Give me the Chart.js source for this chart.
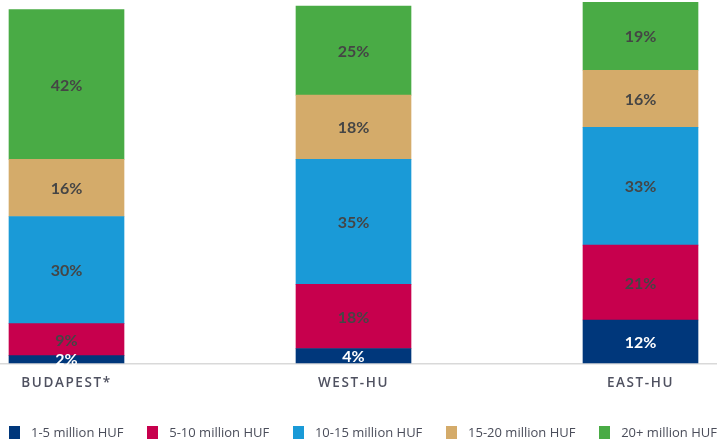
<!DOCTYPE html>
<html>
<head>
<meta charset="utf-8">
<script src="https://cdn.jsdelivr.net/npm/chart.js@4"></script>
<style>
    html, body { margin: 0; padding: 0; background: #fff; }
    .wrap { position: relative; width: 717px; height: 442px; }
    #chart { position: absolute; left: 0; top: 0; }
    .legend {
        position: absolute; left: 9px; right: 0; top: 423px;
        display: flex; justify-content: space-between; align-items: center;
        font-family: 'Open Sans', Lato, sans-serif; font-size: 13px; color: #4a4d5a;
    }
    .legend span.item { display: flex; align-items: center; white-space: nowrap; }
    .legend i { display: inline-block; width: 11px; height: 13px; margin-right: 11px; }
</style>
</head>
<body>
<div class="wrap">
    <canvas id="chart" width="717" height="442"></canvas>
    <div class="legend" id="legend"></div>
</div>
<script>
// 地区
const regions = ['BUDAPEST*', 'WEST-HU', 'EAST-HU'];

// 价格区间
const bands = ['1-5 million HUF', '5-10 million HUF', '10-15 million HUF', '15-20 million HUF', '20+ million HUF'];

// 各区间占比 (%)
const share1to5 = [2, 4, 12];
const share5to10 = [9, 18, 21];
const share10to15 = [30, 35, 33];
const share15to20 = [16, 18, 16];
const share20plus = [42, 25, 19];

const bandColors = ['#00377b', '#c7004d', '#1a9ad7', '#d4ab6a', '#49ab45'];
const labelColors = ['#ffffff', '#454545', '#454545', '#454545', '#454545'];

const series = [share1to5, share5to10, share10to15, share15to20, share20plus];

// 底部基线
const baseLine = {
    id: 'baseLine',
    beforeDraw(chart) {
        const ctx = chart.ctx;
        const y = chart.scales.y.getPixelForValue(0) + 1;
        ctx.save();
        ctx.strokeStyle = '#d9d9d9';
        ctx.lineWidth = 1.5;
        ctx.beginPath();
        ctx.moveTo(0, y);
        ctx.lineTo(chart.width, y);
        ctx.stroke();
        ctx.restore();
        // 地区标签字距
        ctx.letterSpacing = '1.6px';
    },
    beforeDatasetsDraw(chart) {
        chart.ctx.letterSpacing = '0px';
    }
};

// 柱内百分比
const barLabels = {
    id: 'barLabels',
    afterDatasetsDraw(chart) {
        const ctx = chart.ctx;
        ctx.save();
        ctx.font = 'bold 16px Lato, "Open Sans", sans-serif';
        ctx.textAlign = 'center';
        ctx.textBaseline = 'middle';
        chart.data.datasets.forEach((ds, i) => {
            chart.getDatasetMeta(i).data.forEach((bar, j) => {
                ctx.fillStyle = labelColors[i];
                ctx.fillText(ds.data[j] + '%', bar.x, (bar.y + bar.base) / 2 + 1);
            });
        });
        ctx.restore();
    }
};

const chart = new Chart(document.getElementById('chart'), {
    type: 'bar',
    data: {
        labels: regions,
        datasets: bands.map((b, i) => ({
            label: b,
            data: series[i],
            backgroundColor: bandColors[i],
            barThickness: 115,
            clip: false
        }))
    },
    options: {
        responsive: false,
        animation: false,
        layout: { padding: { left: 66.5, right: 76.5, top: 6, bottom: 47 } },
        plugins: { legend: { display: false }, tooltip: { enabled: false } },
        scales: {
            x: {
                stacked: true,
                offset: false,
                grid: { display: false },
                border: { display: false },
                ticks: {
                    padding: 4,
                    maxRotation: 0,
                    color: '#4f5160',
                    font: { family: '"Open Sans", Lato, sans-serif', size: 13.5, weight: '600' }
                }
            },
            y: { stacked: true, display: false, min: 0, max: 100 }
        }
    },
    plugins: [baseLine, barLabels]
});

// 图例
const legend = document.getElementById('legend');
bands.forEach((b, i) => {
    const s = document.createElement('span');
    s.className = 'item';
    s.innerHTML = `<i style="background:${bandColors[i]}"></i>${b}`;
    legend.appendChild(s);
});
</script>
</body>
</html>
